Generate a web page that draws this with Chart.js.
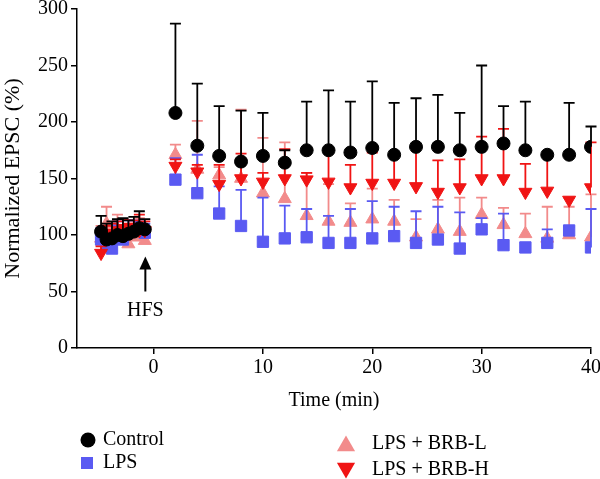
<!DOCTYPE html>
<html>
<head>
<meta charset="utf-8">
<script src="https://cdn.jsdelivr.net/npm/chart.js@4.4.0/dist/chart.umd.min.js"></script>
<style>
  body { margin: 0; background: #fff; }
  #epsc { display: block; }
</style>
</head>
<body>
<canvas id="epsc" width="600" height="479"></canvas>

<script>
// time points (min); baseline before HFS, then every 2 min after
const timePoints = [-4.8, -4.3, -3.8, -3.3, -2.8, -2.3, -1.8, -1.3, -0.8,
  2, 4, 6, 8, 10, 12, 14, 16, 18, 20, 22, 24, 26, 28, 30, 32, 34, 36, 38, 40];

// means (%)
const controlMean = [103, 96, 97, 100, 99, 101, 103, 106, 105,
  208, 179, 170, 165, 170, 164, 175, 175, 173, 177, 171, 178, 178, 175, 178, 181, 175, 171, 171, 178];
const lpsMean = [96, 90, 88, 104, 96, 105, 104, 106, 102,
  149, 137, 119, 108, 94, 97, 98, 93, 93, 97, 99, 93, 96, 88, 105, 91, 89, 93, 104, 89];
const brbLMean = [97, 110, 100, 105, 95, 92, 98, 99, 95,
  171, 158, 153, 150, 137, 132, 117, 112, 111, 114, 112, 98, 105, 103, 118, 109, 101, 97, 100, 98];
const brbHMean = [84, 100, 102, 104, 106, 103, 107, 104, 104,
  161, 156, 145, 150, 147, 150, 149, 147, 142, 146, 146, 143, 138, 142, 150, 150, 138, 139, 131, 142];

// SEM (upper bars only)
const controlSem = [14, 14, 15, 14, 16, 12, 13, 15, 9,
  79, 55, 44, 45, 38, 11, 43, 53, 45, 59, 46, 43, 46, 33, 72, 33, 43, 2, 46, 18];
const lpsSem = [10, 12, 10, 8, 10, 8, 9, 6, 8,
  19, 34, 24, 32, 39, 29, 25, 24, 30, 33, 26, 28, 29, 32, 10, 28, 4, 12, 3, 34];
const brbLSem = [11, 15, 10, 13, 10, 11, 8, 16, 9,
  9, 43, 7, 61, 49, 50, 38, 33, 17, 27, 19, 16, 26, 30, 15, 15, 18, 28, 25, 38];
const brbHSem = [6, 8, 8, 8, 8, 7, 6, 14, 8,
  6, 6, 17, 22, 8, 26, 6, 28, 20, 27, 25, 35, 28, 25, 37, 44, 25, 32, 2, 40];

const xTickValues = [0, 10, 20, 30, 40];
const yTickValues = [0, 50, 100, 150, 200, 250, 300];
const hfsTime = -0.75;

const serif = '"Liberation Serif", "Times New Roman", serif';

function toPoints(means) {
  return means.map((v, i) => ({ x: timePoints[i], y: v }));
}

const errorBars = {
  id: 'errorBars',
  beforeDatasetDraw(chart, args) {
    const ds = chart.data.datasets[args.index];
    const yScale = chart.scales.y;
    const ctx = chart.ctx;
    ctx.save();
    ctx.strokeStyle = ds.borderColor;
    ctx.lineWidth = 1.8;
    args.meta.data.forEach((pt, i) => {
      const top = yScale.getPixelForValue(ds.data[i].y + ds.sem[i]);
      ctx.beginPath();
      ctx.moveTo(pt.x, pt.y);
      ctx.lineTo(pt.x, top);
      ctx.moveTo(pt.x - 5.5, top);
      ctx.lineTo(pt.x + 5.5, top);
      ctx.stroke();
    });
    ctx.restore();
  }
};

const hfsMark = {
  id: 'hfsMark',
  afterDraw(chart) {
    const ctx = chart.ctx;
    const x = chart.scales.x.getPixelForValue(hfsTime);
    const yTail = chart.scales.y.getPixelForValue(50);
    const yTip = chart.scales.y.getPixelForValue(81);
    ctx.save();
    ctx.strokeStyle = '#000';
    ctx.fillStyle = '#000';
    ctx.lineWidth = 2;
    ctx.beginPath();
    ctx.moveTo(x, yTail);
    ctx.lineTo(x, yTip + 10);
    ctx.stroke();
    ctx.beginPath();
    ctx.moveTo(x, yTip);
    ctx.lineTo(x - 6, yTip + 13);
    ctx.lineTo(x + 6, yTip + 13);
    ctx.closePath();
    ctx.fill();
    ctx.font = '20px ' + serif;
    ctx.textAlign = 'center';
    ctx.textBaseline = 'middle';
    ctx.fillText('HFS', x, chart.scales.y.getPixelForValue(33));
    ctx.restore();
  }
};

// legend in two columns under the plot
const legendSpots = [
  { x: 88, y: 440 }, { x: 87, y: 463 }, { x: 346, y: 444 }, { x: 346, y: 470 }
];
const legendOrder = [0, 2, 3, 1];

const gridLegend = {
  id: 'gridLegend',
  afterDraw(chart) {
    const ctx = chart.ctx;
    ctx.save();
    ctx.font = '20px ' + serif;
    ctx.textBaseline = 'middle';
    ctx.textAlign = 'left';
    legendOrder.forEach((di, k) => {
      const ds = chart.data.datasets[di];
      const spot = legendSpots[k];
      const style = { pointStyle: ds.pointStyle, rotation: ds.rotation || 0, borderWidth: 0 };
      ctx.fillStyle = ds.backgroundColor;
      ctx.strokeStyle = ds.backgroundColor;
      const r = ds.pointStyle === 'circle' ? 7.5 : ds.pointStyle === 'rect' ? 8.5 : 10.5;
      Chart.helpers.drawPoint(ctx, Object.assign(style, { radius: r }), spot.x, spot.y + (ds.pointStyle === 'triangle' ? (ds.rotation ? -2 : 2) : 0));
      ctx.fillStyle = '#000';
      ctx.fillText(ds.label, k < 2 ? 103 : 372, spot.y);
    });
    ctx.restore();
  }
};

let epscChart = new Chart(document.getElementById('epsc').getContext('2d'), {
  type: 'scatter',
  data: {
    datasets: [
      { label: 'Control', data: toPoints(controlMean), sem: controlSem, order: 0,
        pointStyle: 'circle', pointRadius: 6.5, backgroundColor: '#000', borderColor: '#000' },
      { label: 'LPS + BRB-H', data: toPoints(brbHMean), sem: brbHSem, order: 1,
        pointStyle: 'triangle', rotation: 180, pointRadius: 7.5, backgroundColor: '#f01414', borderColor: '#f01414' },
      { label: 'LPS', data: toPoints(lpsMean), sem: lpsSem, order: 2,
        pointStyle: 'rect', pointRadius: 8, backgroundColor: '#5a5af2', borderColor: '#5a5af2' },
      { label: 'LPS + BRB-L', data: toPoints(brbLMean), sem: brbLSem, order: 3,
        pointStyle: 'triangle', pointRadius: 7.5, backgroundColor: '#f28b8b', borderColor: '#f28b8b' }
    ]
  },
  options: {
    responsive: false,
    animation: false,
    events: [],
    layout: { padding: { top: 6, right: 7, left: 0, bottom: 59 } },
    plugins: { legend: { display: false }, tooltip: { enabled: false } },
    scales: {
      x: {
        type: 'linear', min: -7, max: 40,
        afterBuildTicks: s => { s.ticks = xTickValues.map(v => ({ value: v })); },
        afterFit: s => { s.height = 72; s.paddingLeft = 0; s.paddingRight = 0; },
        grid: { drawOnChartArea: false, tickLength: 6, color: '#000', lineWidth: 1.5 },
        border: { color: '#000', width: 1.5 },
        ticks: { color: '#000', font: { family: serif, size: 20 }, padding: 2, maxRotation: 0 },
        title: { display: true, text: 'Time (min)', color: '#000', font: { family: serif, size: 20 }, padding: { top: 4, bottom: 7 } }
      },
      y: {
        min: 0, max: 300,
        afterBuildTicks: s => { s.ticks = yTickValues.map(v => ({ value: v })); },
        afterFit: s => { s.width = 77; s.paddingTop = 0; s.paddingBottom = 0; },
        grid: { drawOnChartArea: false, tickLength: 6, color: '#000', lineWidth: 1.5 },
        border: { color: '#000', width: 1.5 },
        ticks: { color: '#000', font: { family: serif, size: 20 }, padding: 3 },
        title: { display: true, text: 'Normalized EPSC (%)', color: '#000', font: { family: serif, size: 22 }, padding: { top: 0, bottom: 0 } }
      }
    }
  },
  plugins: [errorBars, hfsMark, gridLegend]
});
</script>
</body>
</html>
